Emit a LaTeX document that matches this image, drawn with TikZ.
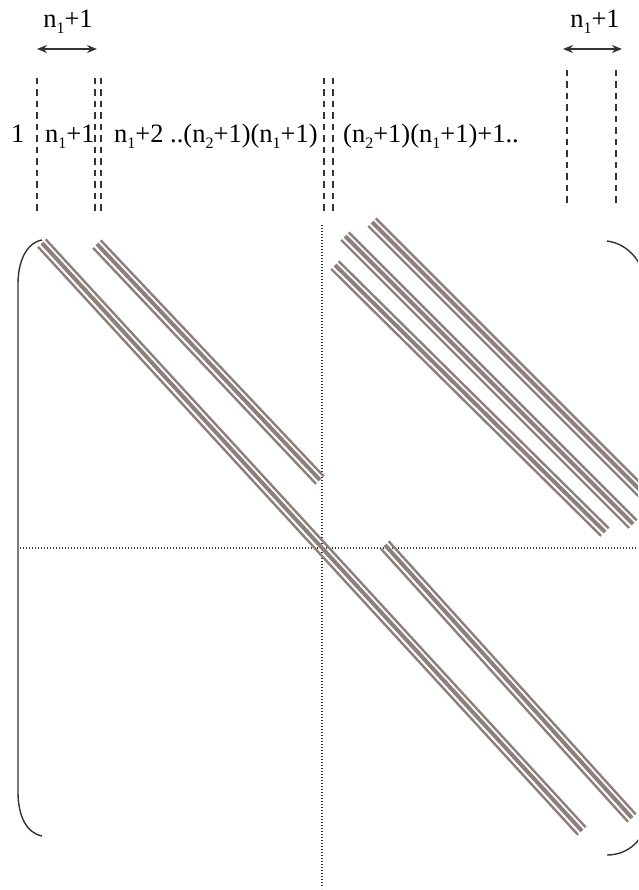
\documentclass[tikz,border=0pt]{standalone}
\usepackage{fontspec}
\setmainfont{Liberation Serif}
\usetikzlibrary{arrows.meta}
\definecolor{bandc}{RGB}{140,127,124}
\definecolor{inkc}{RGB}{50,50,55}
\newcommand{\lo}[1]{\raisebox{-0.22em}{\fontsize{16}{16}\selectfont #1}}
\newcommand{\drawband}[4]{%
  \begin{scope}[shift={(-3.9,3.9)}]\draw[thinband] (#1,#2) -- (#3,#4);\end{scope}
  \draw[thickband] (#1,#2) -- (#3,#4);
  \begin{scope}[shift={(3.7,-3.7)}]\draw[thinband] (#1,#2) -- (#3,#4);\end{scope}}
\tikzset{
  thinband/.style={bandc,line width=2.4pt},
  thickband/.style={bandc,line width=4pt},
  guide/.style={inkc,line width=1.2pt,dash pattern=on 6.5pt off 5pt},
  grid dot/.style={inkc,line width=1.2pt,dash pattern=on 1.3pt off 1.7pt},
  bracketline/.style={inkc,line width=1.4pt},
  span/.style={inkc,line width=1.5pt,{Stealth[length=10pt,width=8pt]}-{Stealth[length=10pt,width=8pt]}},
  lbl/.style={inner sep=0pt,font=\fontsize{26.5}{28}\selectfont,text=black}
}
\begin{document}
\begin{tikzpicture}[x=1pt,y=-1pt]
\useasboundingbox (0,0) rectangle (638,890);
\clip (0,0) rectangle (638,890);
% top labels and arrows
\node[lbl,anchor=base] (topL) at (68,28) {n\lo{1}+1};
\node[lbl,anchor=base] (topR) at (595,28) {n\lo{1}+1};
\coordinate (aL1) at (37,49); \coordinate (aL2) at (97,49);
\coordinate (aR1) at (563,49); \coordinate (aR2) at (622,49);
\draw[span] (aL1) -- (aL2);
\draw[span] (aR1) -- (aR2);
% dashed guides
\foreach \gx in {37,95,101,324,333}{\draw[guide] (\gx,78) -- (\gx,212);}
\foreach \gx in {567,616}{\draw[guide] (\gx,70) -- (\gx,204);}
% row labels
\node[lbl,anchor=base west] (c1) at (11,143) {1};
\node[lbl,anchor=base west] (c2) at (45,143) {n\lo{1}+1};
\node[lbl,anchor=base west] (c3) at (114,143) {n\lo{1}+2 ..(n\lo{2}+1)(n\lo{1}+1)};
\node[lbl,anchor=base west] (c4) at (343,143) {(n\lo{2}+1)(n\lo{1}+1)+1..};
% dotted quadrant lines
\draw[grid dot] (322,225) -- (322,888);
\draw[grid dot] (20,548) -- (638,548);
% brackets
\draw[bracketline] (42,240) .. controls (26,243) and (18,262) .. (18,284) -- (18,792) .. controls (18,815) and (26,833) .. (42,836);
\draw[bracketline] (607,241) .. controls (630,244) and (646,265) .. (647,292) -- (647,815) .. controls (646,840) and (628,855) .. (607,855);
% bands
\drawband{42}{243}{582}{831}
\drawband{97}{244}{320}{480}
\drawband{385}{545}{632}{818}
\drawband{372}{222}{680}{530}
\drawband{345}{236}{633}{524}
\drawband{335}{265}{605}{532}
\end{tikzpicture}
\end{document}
